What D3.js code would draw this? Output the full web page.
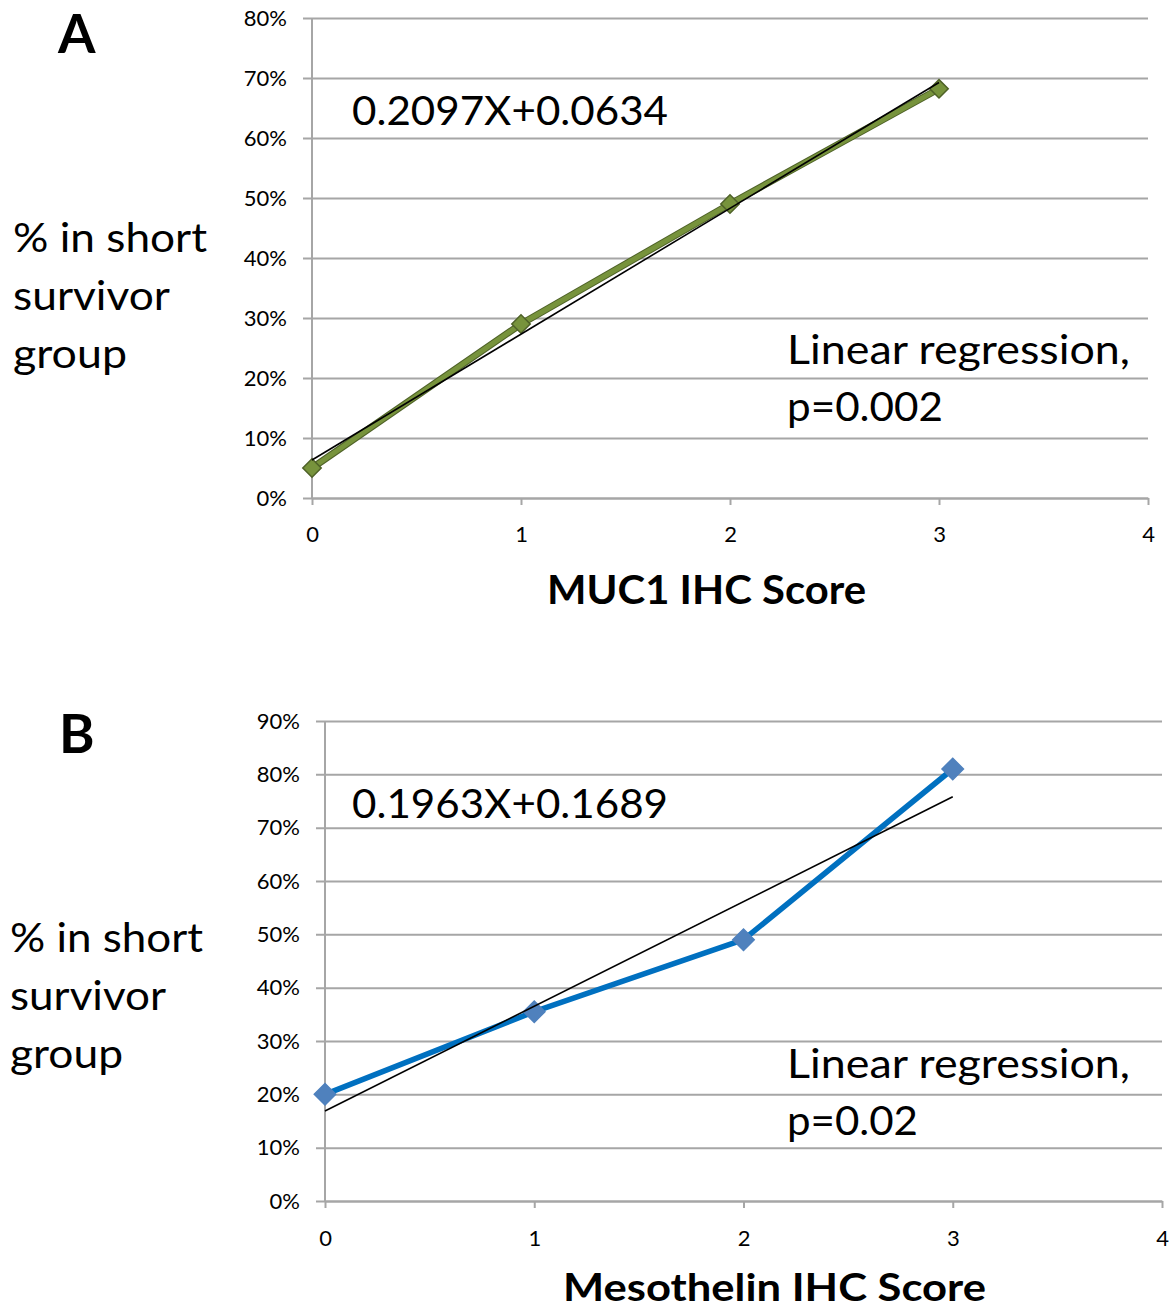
<!DOCTYPE html>
<html>
<head>
<meta charset="utf-8">
<script src="https://cdn.jsdelivr.net/npm/d3@7"></script>
<style>
  html, body { margin: 0; padding: 0; background: #fff; }
  svg { display: block; }
  text { font-family: "Lato", "Open Sans", sans-serif; fill: #000; }
</style>
</head>
<body>
<svg id="chart" width="1169" height="1309"></svg>
<script>
// ---------------- data ----------------
const xCategories = [0, 1, 2, 3];
const xTickValues = [0, 1, 2, 3, 4];

const mucValues = [0.05, 0.29, 0.49, 0.682];
const mucYTicks = [0, 0.1, 0.2, 0.3, 0.4, 0.5, 0.6, 0.7, 0.8];
const mucTrendX = [0, 3];
const mucTrendY = [0.0634, 0.6925];
const mucEquation = "0.2097X+0.0634";
const mucPValue = "p=0.002";

const mesoValues = [0.20, 0.355, 0.49, 0.81];
const mesoYTicks = [0, 0.1, 0.2, 0.3, 0.4, 0.5, 0.6, 0.7, 0.8, 0.9];
const mesoTrendX = [0, 3];
const mesoTrendY = [0.1689, 0.7578];
const mesoEquation = "0.1963X+0.1689";
const mesoPValue = "p=0.02";

const yTitleLines = ["% in short", "survivor", "group"];

// ---------------- drawing ----------------
const svg = d3.select("#chart");

function drawPanel(cfg) {
  const g = svg.append("g");
  const x = d3.scaleLinear().domain([0, 4]).range([cfg.x0, cfg.x1]);
  const y = d3.scaleLinear().domain([0, cfg.yMax]).range([cfg.yBottom, cfg.yTop]);
  const tickLen = 9;

  // y gridlines + labels
  const yAxis = d3.axisLeft(y)
    .tickValues(cfg.yTicks)
    .tickFormat(d3.format(".0%"))
    .tickSize(-(cfg.x1 - cfg.x0 + tickLen))
    .tickPadding(16);
  const ya = g.append("g")
    .attr("transform", `translate(${cfg.x0 - tickLen},0)`)
    .call(yAxis);
  ya.select(".domain").remove();
  ya.selectAll(".tick line").attr("stroke", "#a6a6a6").attr("stroke-width", 2);
  ya.selectAll(".tick text")
    .style("font-family", "Lato, sans-serif")
    .style("font-size", "22px")
    .attr("fill", "#111");

  // y axis vertical line
  g.append("line")
    .attr("x1", cfg.x0).attr("x2", cfg.x0)
    .attr("y1", cfg.yTop).attr("y2", cfg.yBottom)
    .attr("stroke", "#a6a6a6").attr("stroke-width", 2);

  // x axis
  const xAxis = d3.axisBottom(x)
    .tickValues(xTickValues)
    .tickFormat(d3.format("d"))
    .tickSize(7)
    .tickSizeOuter(0)
    .tickPadding(cfg.xPad);
  const xa = g.append("g")
    .attr("transform", `translate(0,${cfg.yBottom})`)
    .call(xAxis);
  xa.select(".domain").attr("stroke", "#a6a6a6").attr("stroke-width", 2);
  xa.selectAll(".tick line").attr("stroke", "#a6a6a6").attr("stroke-width", 2);
  xa.selectAll(".tick text")
    .style("font-family", "Lato, sans-serif")
    .style("font-size", "22px")
    .attr("fill", "#111");

  // series line
  const line = d3.line().x((d, i) => x(xCategories[i])).y(d => y(d));
  if (cfg.lineEdge) {
    g.append("path")
      .datum(cfg.values)
      .attr("d", line)
      .attr("fill", "none")
      .attr("stroke", cfg.lineEdge)
      .attr("stroke-width", 7)
      .attr("stroke-linejoin", "round");
  }
  g.append("path")
    .datum(cfg.values)
    .attr("d", line)
    .attr("fill", "none")
    .attr("stroke", cfg.lineColor)
    .attr("stroke-width", cfg.lineEdge ? 5 : 5.5)
    .attr("stroke-linejoin", "round");

  // markers (rotated squares = diamonds)
  const sym = d3.symbol().type(d3.symbolSquare).size(cfg.markerArea);
  g.selectAll(".mk")
    .data(cfg.values)
    .enter().append("path")
    .attr("d", sym)
    .attr("transform", (d, i) => `translate(${x(xCategories[i])},${y(d)}) rotate(45)`)
    .attr("fill", cfg.markerFill)
    .attr("stroke", cfg.markerStroke)
    .attr("stroke-width", 1.5);

  // trend line
  const tl = d3.line().x((d, i) => x(cfg.trendX[i])).y(d => y(d));
  g.append("path")
    .datum(cfg.trendY)
    .attr("d", tl)
    .attr("fill", "none")
    .attr("stroke", "#000")
    .attr("stroke-width", 1.6);

  // panel letter
  g.append("text")
    .attr("x", cfg.letterX).attr("y", cfg.letterY)
    .style("font-size", "54px").style("font-weight", "bold")
    .text(cfg.letter);

  // y title
  yTitleLines.forEach((t, i) => {
    g.append("text")
      .attr("x", cfg.titleX)
      .attr("y", cfg.titleY + i * 58)
      .style("font-size", "40px")
      .attr("textLength", cfg.titleLens[i])
      .attr("lengthAdjust", "spacingAndGlyphs")
      .text(t);
  });

  // x title
  g.append("text")
    .attr("x", cfg.xTitleX).attr("y", cfg.xTitleY)
    .style("font-size", cfg.xTitleSize).style("font-weight", "bold")
    .attr("textLength", cfg.xTitleLen)
    .attr("lengthAdjust", "spacingAndGlyphs")
    .text(cfg.xTitle);

  // equation
  g.append("text")
    .attr("x", 352).attr("y", cfg.eqY)
    .style("font-size", "40px")
    .attr("textLength", 316)
    .attr("lengthAdjust", "spacingAndGlyphs")
    .text(cfg.equation);

  // regression note
  g.append("text")
    .attr("x", 787).attr("y", cfg.noteY)
    .style("font-size", "40px")
    .attr("textLength", 343)
    .attr("lengthAdjust", "spacingAndGlyphs")
    .text("Linear regression,");
  g.append("text")
    .attr("x", 787).attr("y", cfg.noteY + 57)
    .style("font-size", "40px")
    .attr("textLength", cfg.pLen)
    .attr("lengthAdjust", "spacingAndGlyphs")
    .text(cfg.pValue);
}

drawPanel({
  x0: 312, x1: 1148, yTop: 18, yBottom: 498, yMax: 0.8,
  yTicks: mucYTicks, values: mucValues, xPad: 21,
  lineColor: "#77933c", lineEdge: "#4f6228", markerFill: "#77933c", markerStroke: "#4f6228", markerArea: 170,
  trendX: mucTrendX, trendY: mucTrendY,
  letter: "A", letterX: 58, letterY: 53,
  titleX: 13, titleY: 252, titleLens: [194, 157, 114],
  xTitle: "MUC1 IHC Score", xTitleX: 547, xTitleY: 604, xTitleLen: 319, xTitleSize: "40px",
  equation: mucEquation, eqY: 125,
  noteY: 364, pValue: mucPValue, pLen: 156
});

drawPanel({
  x0: 325, x1: 1162, yTop: 721, yBottom: 1201, yMax: 0.9,
  yTicks: mesoYTicks, values: mesoValues, xPad: 22,
  lineColor: "#0070c0", lineEdge: null, markerFill: "#4f81bd", markerStroke: "#4f81bd", markerArea: 230,
  trendX: mesoTrendX, trendY: mesoTrendY,
  letter: "B", letterX: 59, letterY: 753,
  titleX: 10, titleY: 952, titleLens: [193, 156, 113],
  xTitle: "Mesothelin IHC Score", xTitleX: 563, xTitleY: 1301, xTitleSize: "38px", xTitleLen: 423,
  equation: mesoEquation, eqY: 818,
  noteY: 1078, pValue: mesoPValue, pLen: 131
});
</script>
</body>
</html>
